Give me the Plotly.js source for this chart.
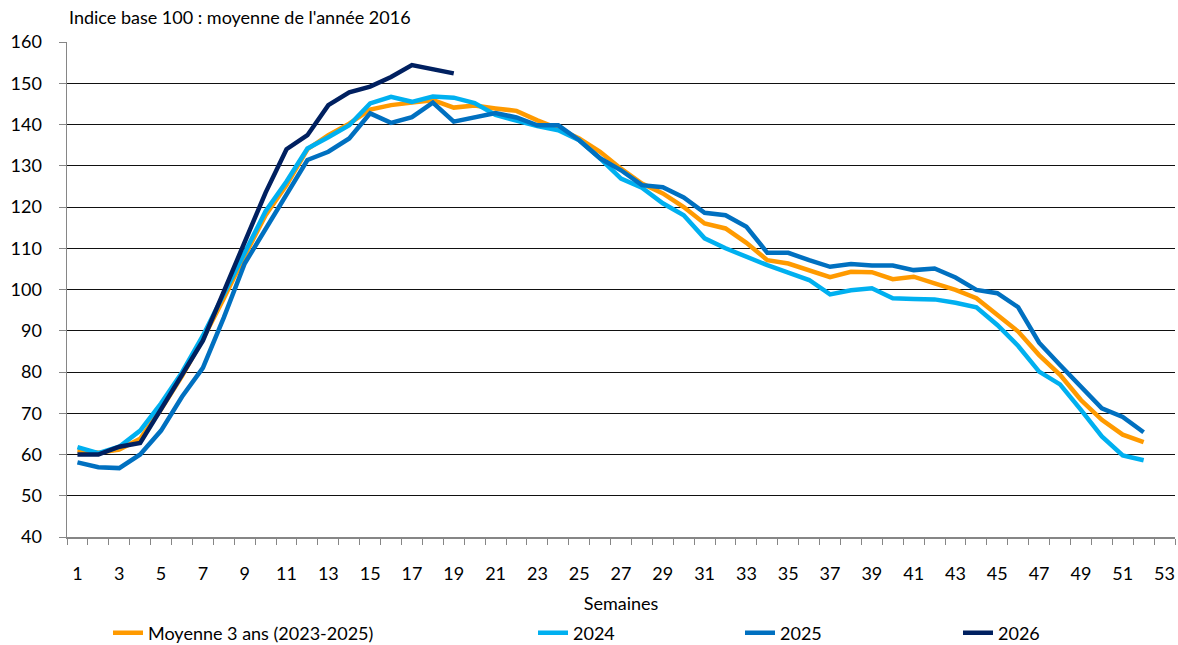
<!DOCTYPE html>
<html>
<head>
<meta charset="utf-8">
<script src="https://cdn.plot.ly/plotly-3.0.1.min.js"></script>
<style>html,body{margin:0;padding:0;background:#fff;}#chart{width:1178px;height:645px;}</style>
</head>
<body>
<div id="chart"></div>
<script>
var weeks = [];
for (var i = 1; i <= 52; i++) weeks.push(i);
var weeks2026 = weeks.slice(0, 19);

var seriesNames = ["Moyenne 3 ans (2023-2025)", "2024", "2025", "2026"];

var moyenne = [61.0, 60.4, 61.2, 63.8, 71.0, 79.0, 88.0, 97.8, 108.2, 118.0, 125.3, 134.0, 137.4, 140.2, 143.6, 144.7, 145.3, 145.9, 144.1, 144.6,
  143.9, 143.3, 141.0, 139.0, 136.6, 133.4, 129.3, 125.7, 123.3, 120.0, 116.0, 114.8, 111.3, 107.1, 106.3, 104.6, 103.0, 104.3, 104.2, 102.5,
  103.1, 101.5, 99.9, 97.9, 93.8, 89.8, 84.1, 79.3, 73.2, 68.4, 64.8, 63.0];

var y2024 = [61.8, 60.3, 61.9, 65.8, 72.4, 79.9, 88.8, 99.0, 109.2, 119.0, 126.2, 134.2, 136.9, 139.8, 145.1, 146.7, 145.5, 146.8, 146.5, 145.2,
  142.3, 141.0, 139.6, 138.6, 136.2, 131.8, 126.9, 124.7, 120.9, 118.0, 112.4, 110.0, 107.9, 105.9, 104.1, 102.3, 98.8, 99.8, 100.3, 97.9,
  97.7, 97.6, 96.8, 95.7, 91.4, 86.3, 80.1, 77.0, 70.8, 64.4, 59.8, 58.6];

var y2025 = [58.1, 56.9, 56.7, 60.0, 65.8, 74.0, 81.0, 93.2, 106.3, 114.5, 123.0, 131.4, 133.4, 136.6, 142.7, 140.4, 141.8, 145.3, 140.7, 141.8,
  142.8, 141.7, 139.8, 139.8, 136.2, 131.8, 128.9, 125.3, 124.8, 122.3, 118.6, 118.0, 115.2, 108.9, 108.9, 107.1, 105.5, 106.2, 105.8, 105.8,
  104.7, 105.1, 102.9, 99.9, 99.1, 95.7, 87.1, 81.7, 76.5, 71.2, 69.1, 65.4];

var y2026 = [60.0, 60.0, 61.9, 62.8, 71.0, 79.4, 87.6, 99.5, 111.2, 123.5, 134.0, 137.4, 144.7, 147.8, 149.2, 151.5, 154.4, 153.3, 152.4];

var xTickLabels = [];
for (var k = 1; k <= 53; k += 2) xTickLabels.push(k);
var xMinorTicks = [];
for (var m = 0.5; m <= 53.5; m += 1) xMinorTicks.push(m);

var colors = ["#FF9A00", "#00B0F0", "#0070C0", "#002060"];
var font = "Lato, 'Open Sans', sans-serif";

function tr(x, y, idx, legendId) {
  return {
    x: x, y: y, type: "scatter", mode: "lines", name: seriesNames[idx],
    line: {color: colors[idx], width: 4.5}, legend: legendId
  };
}

var data = [
  tr(weeks, moyenne, 0, "legend"),
  tr(weeks, y2024, 1, "legend2"),
  tr(weeks, y2025, 2, "legend3"),
  tr(weeks2026, y2026, 3, "legend4")
];

var W = 1178, H = 645;
function leg(px) {
  return {x: px / W, xref: "container", y: (H - 633) / H, yref: "container",
    xanchor: "left", yanchor: "middle", orientation: "h",
    bgcolor: "rgba(0,0,0,0)", font: {family: font, size: 18, color: "#000"}};
}

var layout = {
  width: W, height: H,
  margin: {l: 67, r: 3, t: 42, b: 108},
  paper_bgcolor: "#fff", plot_bgcolor: "#fff",
  font: {family: font, size: 17, color: "#000"},
  showlegend: true,
  legend: leg(108), legend2: leg(533), legend3: leg(740), legend4: leg(958),
  xaxis: {
    range: [0.5, 53.5], tickmode: "array", tickvals: xTickLabels, ticktext: xTickLabels.map(String),
    ticks: "", showgrid: false, zeroline: false, showline: true, linecolor: "#868686", linewidth: 1.5,
    tickfont: {family: font, size: 18}, ticklabelstandoff: 20, automargin: false,
    minor: {tickmode: "array", tickvals: xMinorTicks, ticks: "outside", ticklen: 6, tickcolor: "#868686", tickwidth: 1, showgrid: false},
    title: {text: "Semaines", font: {family: font, size: 18}, standoff: 25}
  },
  yaxis: {
    range: [40, 160], tickmode: "linear", tick0: 40, dtick: 10,
    ticks: "outside", ticklen: 7, tickcolor: "#868686", automargin: false,
    showgrid: true, gridcolor: "#111111", gridwidth: 1, zeroline: false,
    showline: true, linecolor: "#868686", linewidth: 1.5,
    tickfont: {family: font, size: 18}, ticklabelstandoff: 13
  },
  annotations: [{
    text: "Indice base 100 : moyenne de l'année 2016", xref: "paper", yref: "paper",
    x: 0, y: 1, xanchor: "left", yanchor: "bottom", yshift: 12, showarrow: false,
    font: {family: font, size: 18, color: "#000"}
  }]
};

Plotly.newPlot("chart", data, layout, {displayModeBar: false, staticPlot: true});
</script>
</body>
</html>
